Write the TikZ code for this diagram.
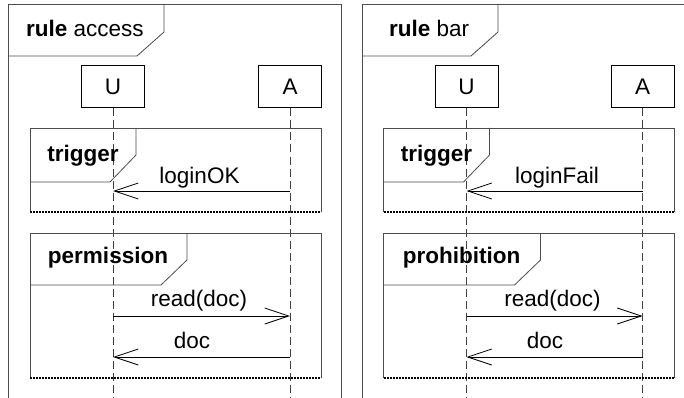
\documentclass[tikz,border=0pt]{standalone}
\usepackage{fontspec}
\setmainfont{Liberation Sans}
\usetikzlibrary{arrows.meta}

\begin{document}
\begin{tikzpicture}[x=1pt, y=-1pt,
        every node/.style={font=\fontsize{22.5}{27}\selectfont},
        frame/.style={
            draw=black!70,
            line width=0.8pt},
        fragend/.style={
            draw=black,
            line width=1.1pt,
            dash pattern=on 2pt off 1pt},
        lifebox/.style={
            rectangle,
            draw=black, line width=1pt,
            minimum width=63pt,
            minimum height=42pt,
            inner sep=0pt},
        lifeline/.style={
            draw=black!75,
            line width=0.8pt,
            dash pattern=on 8pt off 4pt},
        msg/.style={
            draw=black,
            line width=0.8pt,
            -{Straight Barb[length=24pt, width=16pt]}},
        tag/.style={
            font=\fontsize{22.5}{27}\selectfont\bfseries,
            inner sep=0pt, anchor=base},
        label/.style={
            inner sep=0pt, anchor=base}
        ]

    \useasboundingbox (0,0) rectangle (684,398);

    % rule access
    \draw[frame] (8,398) -- (8,4) -- (341,4) -- (341,398);
    \draw[frame] (8,56) -- (137,56) -- (164,32) -- (164,4);
    \node[label, anchor=base west] (accessTitle) at (26,37) {\textbf{rule} access};

    \node (accessU) [lifebox] at (113,87) {U};
    \node (accessA) [lifebox] at (290,87) {A};
    \coordinate (accessUend) at (113,398);
    \coordinate (accessAend) at (290,398);
    \draw[lifeline] (accessU) -- (accessUend);
    \draw[lifeline] (accessA) -- (accessAend);

    \draw[frame] (30,212) -- (30,128) -- (321,128) -- (321,212);
    \draw[fragend] (30,212) -- (321,212);
    \draw[frame] (30,182) -- (110,182) -- (136,155) -- (136,128);
    \node (accessTrigger) [tag] at (83,161) {trigger};

    \coordinate (accessA1) at (290,191);
    \coordinate (accessU1) at (113,191);
    \draw[msg] (accessA1) -- (accessU1);
    \node (loginOK) [label] at (199.5,183) {loginOK};

    \draw[frame] (30,378) -- (30,233) -- (321,233) -- (321,378);
    \draw[fragend] (30,378) -- (321,378);
    \draw[frame] (30,285) -- (161,285) -- (187,260) -- (187,233);
    \node (permission) [tag] at (108,263) {permission};

    \coordinate (accessU2) at (113,316);
    \coordinate (accessA2) at (290,316);
    \draw[msg] (accessU2) -- (accessA2);
    \node (accessRead) [label] at (199,306) {read(doc)};

    \coordinate (accessA3) at (290,357);
    \coordinate (accessU3) at (113,357);
    \draw[msg] (accessA3) -- (accessU3);
    \node (accessDoc) [label] at (192,348) {doc};

    % rule bar
    \begin{scope}[xshift=353.5pt]
    \draw[frame] (8.5,398) -- (8.5,4) -- (341,4) -- (341,398);
    \draw[frame] (8.5,56) -- (117.5,56) -- (144.5,32) -- (144.5,4);
    \node[label, anchor=base west] (barTitle) at (35.5,37) {\textbf{rule} bar};

    \node (barU) [lifebox] at (113,87) {U};
    \node (barA) [lifebox] at (289,87) {A};
    \coordinate (barUend) at (113,398);
    \coordinate (barAend) at (289,398);
    \draw[lifeline] (barU) -- (barUend);
    \draw[lifeline] (barA) -- (barAend);

    \draw[frame] (30,212) -- (30,128) -- (321,128) -- (321,212);
    \draw[fragend] (30,212) -- (321,212);
    \draw[frame] (30,182) -- (110,182) -- (136,155) -- (136,128);
    \node (barTrigger) [tag] at (83,161) {trigger};

    \coordinate (barA1) at (289,191);
    \coordinate (barU1) at (113,191);
    \draw[msg] (barA1) -- (barU1);
    \node (loginFail) [label] at (203.5,183) {loginFail};

    \draw[frame] (30,378) -- (30,233) -- (321,233) -- (321,378);
    \draw[fragend] (30,378) -- (321,378);
    \draw[frame] (30,285) -- (161,285) -- (187,260) -- (187,233);
    \node (prohibition) [tag] at (108,263) {prohibition};

    \coordinate (barU2) at (113,316);
    \coordinate (barA2) at (289,316);
    \draw[msg] (barU2) -- (barA2);
    \node (barRead) [label] at (199,306) {read(doc)};

    \coordinate (barA3) at (289,357);
    \coordinate (barU3) at (113,357);
    \draw[msg] (barA3) -- (barU3);
    \node (barDoc) [label] at (191.5,348) {doc};
    \end{scope}

\end{tikzpicture}
\end{document}
